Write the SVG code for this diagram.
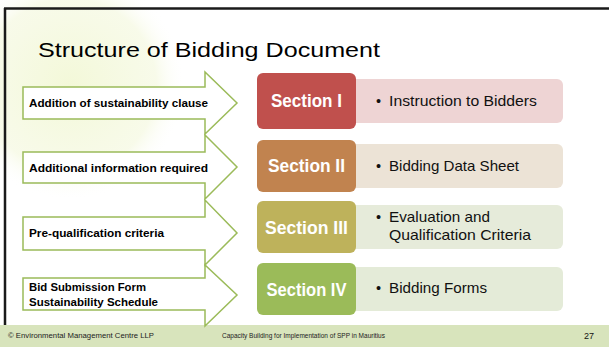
<svg xmlns="http://www.w3.org/2000/svg" width="609" height="347" viewBox="0 0 609 347">
  <defs>
    <radialGradient id="lime" cx="0.5" cy="0.5" r="0.5">
      <stop offset="0" stop-color="#eef5c8" stop-opacity="0.7"/>
      <stop offset="0.75" stop-color="#f2f7d8" stop-opacity="0.55"/>
      <stop offset="1" stop-color="#ffffff" stop-opacity="0"/>
    </radialGradient>
    <style>
      .arrow { fill: #ffffff; stroke: #9BBB59; stroke-width: 1.5; }
      .alabel { font-family: "Liberation Sans", Arial, sans-serif; font-weight: bold; font-size: 10.5px; fill: #000; }
      .sec { font-family: "Liberation Sans", Arial, sans-serif; font-weight: bold; font-size: 17.5px; fill: #fff; text-anchor: middle; }
      .item { font-family: "Liberation Sans", Arial, sans-serif; font-size: 14.5px; fill: #111; }
      .foot { font-family: "Liberation Sans", Arial, sans-serif; font-size: 7px; fill: #222; }
    </style>
  </defs>

  <rect x="0" y="0" width="609" height="347" fill="#ffffff"/>
  <!-- faint lime decoration -->
  <ellipse cx="70" cy="85" rx="115" ry="115" fill="url(#lime)"/>

  <!-- frame -->
  <line x1="4" y1="8.5" x2="609" y2="8.5" stroke="#1a1a1a" stroke-width="2.5"/>
  <line x1="5" y1="8" x2="5" y2="326" stroke="#1a1a1a" stroke-width="2.5"/>

  <!-- footer -->
  <rect x="0" y="325" width="609" height="22" fill="#D8E4BC"/>
  <text class="foot" x="8" y="338" textLength="146" lengthAdjust="spacingAndGlyphs">© Environmental Management Centre LLP</text>
  <text class="foot" x="222" y="338" textLength="163" lengthAdjust="spacingAndGlyphs">Capacity Building for Implementation of SPP in Mauritius</text>
  <text class="foot" x="584" y="339" style="font-size:9px;fill:#111">27</text>

  <!-- title -->
  <text x="38" y="57" font-family="'Liberation Sans', Arial, sans-serif" font-size="21" fill="#000" textLength="342" lengthAdjust="spacingAndGlyphs">Structure of Bidding Document</text>

  <g id="connectors">
    <g id="arrow1">
      <polygon class="arrow" points="23,87 205,87 205,72 237,103 205,134 205,119 23,119"/>
      <text class="alabel" x="29" y="107" textLength="179" lengthAdjust="spacingAndGlyphs">Addition of sustainability clause</text>
    </g>
    <g id="arrow2">
      <polygon class="arrow" points="23,152 205,152 205,135 237,167 205,199 205,183 23,183"/>
      <text class="alabel" x="29" y="172" textLength="179" lengthAdjust="spacingAndGlyphs">Additional information required</text>
    </g>
    <g id="arrow3">
      <polygon class="arrow" points="23,217 205,217 205,200 237,233 205,265 205,250 23,250"/>
      <text class="alabel" x="29" y="237" textLength="135" lengthAdjust="spacingAndGlyphs">Pre-qualification criteria</text>
    </g>
    <g id="arrow4">
      <polygon class="arrow" points="23,278 205,278 205,265 237,295 205,326 205,310 23,310"/>
      <text class="alabel" x="29" y="291" textLength="117" lengthAdjust="spacingAndGlyphs">Bid Submission Form</text>
      <text class="alabel" x="29" y="306" textLength="129" lengthAdjust="spacingAndGlyphs">Sustainability Schedule</text>
    </g>
  </g>

  <g id="section1">
    <rect x="340" y="79" width="223" height="44" rx="6" fill="#EED4D4"/>
    <rect x="257" y="73" width="99" height="56" rx="6" fill="#C0504D"/>
    <text class="sec" x="306.5" y="106.5" textLength="71" lengthAdjust="spacingAndGlyphs">Section I</text>
    <text class="item" x="376" y="106">•</text>
    <text class="item" x="389" y="106" textLength="148" lengthAdjust="spacingAndGlyphs">Instruction to Bidders</text>
  </g>

  <g id="section2">
    <rect x="340" y="144" width="223" height="44" rx="6" fill="#ECE3D6"/>
    <rect x="257" y="140" width="99" height="52" rx="6" fill="#C1834F"/>
    <text class="sec" x="306.5" y="171.5" textLength="77" lengthAdjust="spacingAndGlyphs">Section II</text>
    <text class="item" x="376" y="171">•</text>
    <text class="item" x="389" y="171" textLength="130" lengthAdjust="spacingAndGlyphs">Bidding Data Sheet</text>
  </g>

  <g id="section3">
    <rect x="340" y="205" width="223" height="44" rx="6" fill="#E6EBDA"/>
    <rect x="257" y="201" width="99" height="52" rx="6" fill="#BEB25B"/>
    <text class="sec" x="306.5" y="233.5" textLength="83" lengthAdjust="spacingAndGlyphs">Section III</text>
    <text class="item" x="376" y="222">•</text>
    <text class="item" x="389" y="222" textLength="101" lengthAdjust="spacingAndGlyphs">Evaluation and</text>
    <text class="item" x="389" y="240" textLength="142" lengthAdjust="spacingAndGlyphs">Qualification Criteria</text>
  </g>

  <g id="section4">
    <rect x="340" y="267" width="223" height="44" rx="6" fill="#E4EBD8"/>
    <rect x="257" y="263" width="99" height="52" rx="6" fill="#9BBB59"/>
    <text class="sec" x="306.5" y="295.5" textLength="80" lengthAdjust="spacingAndGlyphs">Section IV</text>
    <text class="item" x="376" y="293">•</text>
    <text class="item" x="389" y="293" textLength="98" lengthAdjust="spacingAndGlyphs">Bidding Forms</text>
  </g>
</svg>
